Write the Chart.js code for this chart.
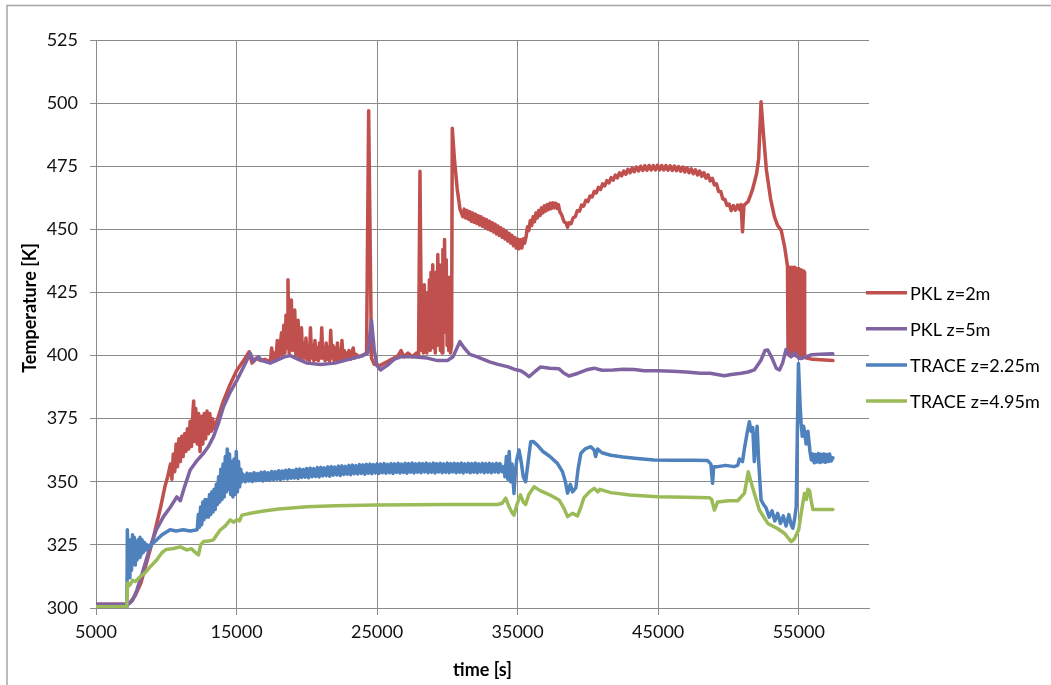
<!DOCTYPE html>
<html>
<head>
<meta charset="utf-8">
<script src="https://cdn.jsdelivr.net/npm/chart.js@4.4.0/dist/chart.umd.min.js"></script>
<style>html,body{margin:0;padding:0;background:#fff;}canvas{display:block;}</style>
</head>
<body>
<canvas id="c" width="1051" height="685"></canvas>
<script>
const seriesNames = ["PKL z=2m", "PKL z=5m", "TRACE z=2.25m", "TRACE z=4.95m"];
const seriesColors = ["#C0504D", "#8064A2", "#4F81BD", "#9BBB59"];
const xTicks = [5000, 15000, 25000, 35000, 45000, 55000];
const yTicks = [300, 325, 350, 375, 400, 425, 450, 475, 500, 525];
const xTitle = "time [s]";
const yTitle = "Temperature [K]";

const pkl2m = [[5000,301.5],[7200,301.5],[7400,302],[7800,305],[8200,310],[8600,318],[9000,326],[9300,333],[9600,340],[9900,348],[10100,352],
[10300,357],[10400,351],[10500,361],[10600,354],[10700,365],[10800,356],[10900,367],[11000,358],[11100,368],[11200,360],[11300,369],[11400,362],[11500,371],[11600,363],[11700,374],[11800,364],[11900,378],[11950,382],[12000,366],[12100,379],[12200,365],[12300,377],[12400,362],[12500,376],[12600,365],[12700,377],[12800,367],[12900,378],[13000,369],[13100,377],[13200,370],[13300,375],[13400,371],[13600,374],
[14000,381],[14500,388],[15000,394],[15500,398],[15900,401.5],[16100,397],[16400,399],[16700,398],[17000,398.5],[17400,397.5],[17500,403],[17600,398],[17700,401],[17800,398],[17900,406],[18000,399],[18100,404],[18200,409],[18280,400],[18360,412],[18440,401],[18520,416],[18600,403],[18660,430],[18740,401],[18820,413],[18900,422],[18980,402],[19060,411],[19140,418],[19220,400],[19300,409],[19380,414],[19460,399],[19540,408],[19620,411],[19700,399],[19780,405],[19860,399],[19940,407],[20020,398.5],[20100,404],[20180,398],[20260,411],[20340,399],[20420,404],[20500,398],[20580,406],[20660,398.5],[20740,403],[20820,398],[20900,405],[20980,399],[21060,411],[21140,399],[21220,403],[21300,398],[21380,405],[21460,398.5],[21540,403],[21620,398],[21700,410],[21780,399],[21860,404],[21940,398],[22020,403],[22100,398.5],[22180,405],[22260,398],[22340,402],[22420,398.5],[22500,406],[22580,398],[22660,402],[22740,398.5],[22820,401],[22900,398.5],[23000,402],[23100,398.5],[23200,401],[23300,403],[23400,399],[23500,400.5],[23700,399.5],[23900,400],[24100,400.5],[24250,401],[24400,497],[24600,399],[24800,396.5],[25200,396],[25700,397.5],[26200,399],[26500,400],[26700,402],[26900,399.5],[27200,401],[27500,399.5],[27800,401],[27950,400],
[28050,473],[28120,430],[28180,402],[28240,418],[28300,401],[28360,428],[28420,403],[28480,420],[28540,401],[28600,425],[28660,404],[28720,430],[28780,402],[28840,433],[28900,408],[28960,436],[29020,403],[29080,428],[29140,401],[29200,433],[29260,404],[29320,440],[29380,407],[29440,436],[29500,402],[29560,432],[29620,401],[29680,442],[29740,409],[29800,446],[29860,412],[29920,438],[29980,404],[30040,430],[30100,402],[30160,431],[30220,401],[30300,404],[30350,490],[30500,478],[30700,466],[30900,458],
[31100,455],[31200,458],[31300,454.5],[31400,457.5],[31500,454],[31600,457],[31700,453.2],[31800,456.5],[31900,452.8],[32000,456],[32100,452.3],[32200,455.4],[32300,451.7],[32400,455],[32500,451.2],[32600,454.3],[32700,450.6],[32800,453.8],[32900,450],[33000,453.2],[33100,449.5],[33200,452.6],[33300,448.9],[33400,452],[33500,448.2],[33600,451.3],[33700,447.6],[33800,450.6],[33900,446.9],[34000,449.9],[34100,446.2],[34200,449.2],[34300,445.4],[34400,448.4],[34500,444.6],[34600,447.6],[34700,443.5],[34800,446.8],[34900,442.6],[35000,446.2],[35100,442.3],[35200,445.9],[35300,442.6],[35400,446.3],[35500,444.5],
[35600,447],[35700,451],[35800,449.5],[35900,453.5],[36000,451.5],[36100,455],[36200,453],[36300,456.5],[36400,454.5],[36500,457.5],[36600,455.5],[36700,458.5],[36800,456.5],[36900,459.3],[37000,457.2],[37100,459.8],[37200,457.8],[37300,460.3],[37400,458.2],[37500,460.5],[37600,458.5],[37700,460.4],[37800,458.3],[37900,459.8],[38000,457],[38150,455.5],[38300,453],[38450,452.5],[38550,450.8],[38650,452.6],[38800,452.2],[38950,454.6],[39100,455],[39250,457.4],[39400,457.2],[39550,459.6],[39700,459.2],[39850,461.5],[40000,461],[40150,463.2],[40300,462.8],[40450,465],[40600,464.4],[40750,466.6],[40900,465.8],[41050,468],[41200,467.2],[41350,469.3],[41500,468.4],[41650,470.5],[41800,469.5],[41950,471.5],[42100,470.4],[42250,472.4],[42400,471.2],[42550,473.1],[42700,471.8],[42850,473.8],[43000,472.4],[43150,474.3],[43300,472.8],[43450,474.7],[43600,473.1],[43750,475],[43900,473.3],[44050,475.2],[44200,473.4],[44350,475.3],[44500,473.5],[44650,475.3],[44800,473.5],[44950,475.4],[45100,473.5],[45250,475.3],[45400,473.5],[45550,475.3],[45700,473.4],[45850,475.2],[46000,473.3],[46150,475.1],[46300,473.2],[46450,474.9],[46600,473],[46750,474.7],[46900,472.7],[47050,474.4],[47200,472.4],[47350,474],[47500,472],[47650,473.6],[47800,471.5],[47950,473.1],[48100,471],[48250,472.5],[48400,470.3],[48550,471.6],[48700,469.2],[48850,470.2],[49000,467.6],[49150,468],[49300,465],[49450,465],[49600,462],[49750,461.8],[49900,459.5],[50050,460],[50200,457.4],[50350,459.4],[50500,457.6],[50650,459.6],[50800,457.8],[50900,459.8],[51000,449],[51100,459.5],
[51400,461],[51700,465.5],[52000,472],[52150,478],[52320,500.5],[52500,487],[52700,473.5],[53000,462],[53270,455],[53500,451.5],[53750,449.7],[54000,443],[54200,435.5],
[54240,400.5],[54280,435],[54320,400],[54360,435],[54400,400.5],[54440,434.5],[54480,400],[54520,435],[54560,400],[54600,434.5],[54640,400.5],[54680,435],[54720,400],[54760,434.5],[54800,400],[54840,434.5],[54880,400.5],[54920,434],[54960,400],[55000,434.5],[55040,400],[55080,434],[55120,400.5],[55160,434],[55200,400],[55240,433.5],[55280,400],[55320,433.5],[55360,400],[55400,433],[55420,399.5],
[55550,399],[56000,398.5],[57430,398]];

const pkl5m = [[5000,301.5],[7300,301.5],[7600,303],[7900,307],[8300,314],[8850,324.3],[9300,331],[9800,336.2],[10300,340],[10750,344],[11000,342.5],[11300,348],[11700,354.7],[12200,358.5],[12650,361.3],[13000,364],[13360,367.9],[13700,373],[14070,379.7],[14500,385],[15030,390.3],[15500,395.5],[15980,400.9],[16210,397.7],[16570,399.5],[16800,398],[17400,397],[18000,398.5],[18400,399.5],[18830,400],[19400,398.5],[20020,397],[21000,396.5],[22000,397],[23000,398.5],[24000,400],[24350,401],[24600,414],[24800,402],[25000,396],[25240,394.3],[25700,396],[26200,398.5],[26670,399.5],[27500,399.5],[28570,399],[29300,398],[30000,398],[30400,399.5],[30890,405.5],[31200,403],[31600,400.5],[32130,399.5],[33000,397.5],[33600,396.5],[34270,395.6],[34800,394.5],[35220,394],[35500,393],[35810,391.6],[36200,393.5],[36640,395.5],[37300,395],[37930,394.8],[38300,393],[38660,391.9],[39300,393],[40000,394.5],[40440,395],[41000,394.2],[41800,394.3],[42500,394.6],[43290,394.5],[44000,394],[45000,394],[46000,393.8],[47000,393.5],[48000,393],[48700,393],[49700,392],[50200,392.5],[50900,393],[51400,393.5],[51840,394.3],[52300,398],[52600,402],[52800,402.2],[53100,399],[53400,395],[53630,394.3],[53850,397],[54100,402.4],[54300,400.5],[54460,399.5],[54700,401],[55000,399],[55170,398.8],[55500,399.5],[55890,400.3],[56500,400.5],[57430,400.7]];

const trace225 = [[5000,300.5],[7200,300.5],[7230,331],[7290,316],[7350,324],[7410,312],[7470,327],[7530,315],[7600,329],[7660,318],[7720,328],[7790,317],[7850,326],[7920,319],[7990,327],[8060,320],[8130,328],[8200,321],[8280,327],[8360,322],[8450,326],[8550,323],[8650,325],[8750,323.5],[9000,325.5],[9320,327],[9700,329],[10270,331],[10700,330.5],[11200,331],[11700,330.5],
[12200,331],[12280,337],[12360,332],[12440,340],[12520,333],[12600,342],[12680,335],[12760,343],[12840,336],[12920,343],[13000,336],[13080,345],[13160,337],[13240,346],[13320,338],[13400,347],[13480,339],[13560,349],[13640,341],[13720,352],[13800,342],[13880,355],[13960,343],[14040,357],[14120,344],[14200,360],[14280,346],[14340,363],[14420,347],[14500,361],[14580,345],[14660,358],[14740,344],[14820,359],[14900,345],[14980,362],[15060,346],[15140,358],[15220,348],[15300,355],[15380,350],[15460,353],
[15625,350.0],[15750,353.4],[15875,350.3],[16000,353.2],[16125,350.1],[16250,353.6],[16375,350.4],[16500,353.3],[16625,350.5],[16750,353.8],[16875,350.3],[17000,353.9],[17125,350.7],[17250,353.6],[17375,350.6],[17500,354.1],[17625,350.9],[17750,354.0],[17875,351.0],[18000,354.4],[18125,350.8],[18250,354.3],[18375,351.2],[18500,354.6],[18625,351.1],[18750,354.8],[18875,351.4],[19000,354.5],[19125,351.5],[19250,355.0],[19375,351.3],[19500,355.1],[19625,351.7],[19750,354.9],[19875,351.8],[20000,355.3],[20125,351.6],[20250,355.4],[20375,352.0],[20500,355.2],[20625,352.1],[20750,355.6],[20875,351.9],[21000,355.7],[21125,352.3],[21250,355.5],[21375,352.4],[21500,355.9],[21625,352.2],[21750,356.0],[21875,352.6],[22000,355.8],[22125,352.7],[22250,356.2],[22375,352.5],[22500,356.3],[22625,352.9],[22750,356.1],[22875,353.0],[23000,356.5],[23125,352.8],[23250,356.6],[23375,353.2],[23500,356.4],[23625,353.1],[23750,356.8],[23875,353.3],[24000,356.7],[24125,353.0],[24250,356.9],[24375,353.4],[24500,357.0],[24625,353.2],[24750,356.8],[24875,353.5],[25000,357.1],[25125,353.3],[25250,357.0],[25375,353.6],[25500,357.2],[25625,353.4],[25750,356.9],[25875,353.6],[26000,357.2],[26125,353.3],[26250,357.1],[26375,353.7],[26500,357.3],[26625,353.5],[26750,357.0],[26875,353.7],[27000,357.3],[27125,353.4],[27250,357.2],[27375,353.8],[27500,357.4],[27625,353.5],[27750,357.1],[27875,353.8],[28000,357.3],[28125,353.6],[28250,357.2],[28375,353.9],[28500,357.4],[28625,353.6],[28750,357.1],[28875,353.8],[29000,357.4],[29125,353.5],[29250,357.2],[29375,353.9],[29500,357.3],[29625,353.6],[29750,357.1],[29875,353.8],[30000,357.4],[30125,353.6],[30250,357.2],[30375,353.9],[30500,357.3],[30625,353.6],[30750,357.2],[30875,353.8],[31000,357.4],[31125,353.5],[31250,357.1],[31375,353.9],[31500,357.3],[31625,353.6],[31750,357.2],[31875,353.8],[32000,357.4],[32125,353.6],[32250,357.1],[32375,353.9],[32500,357.3],[32625,353.6],[32750,357.2],[32875,353.8],[33000,357.3],[33125,353.6],[33250,357.1],[33375,353.9],[33500,357.3],[33625,353.7],[33750,357.2],[33875,354.0],
[34000,356],[34100,352],[34200,360],[34300,351],[34400,362],[34500,350],[34600,357],[34740,345.4],[34850,355],[34950,359],[35100,362.6],[35250,358],[35400,352],[35570,350],[35750,358],[35930,365.9],[36100,366],[36400,364.5],[36800,362],[37300,360],[37830,357.3],[38190,354],[38400,350],[38550,345.5],[38750,349],[38900,346],[39140,347.6],[39300,355],[39500,361.3],[39800,363],[40210,363.9],[40450,362.5],[40550,360],[40690,363],[41000,361.5],[41630,360.5],[42500,359.8],[43500,359.2],[44720,358.6],[46000,358.5],[47500,358.5],[48520,358.4],[48750,357],[48870,349.4],[48950,356],[49230,356],[49800,356.5],[50400,356],[50660,356.5],[50780,359],[51000,358],[51140,363.3],[51350,370],[51490,373.8],[51600,370],[51730,371.5],[51840,358],[51950,366],[52040,372],[52150,358],[52320,342.8],[52500,341],[52680,339.6],[52900,336],[53100,338.5],[53300,334.5],[53500,337.5],[53700,333.5],[53900,336.5],[54100,332.5],[54300,337],[54460,333],[54580,331.6],[54700,335],[54820,340],[54980,396.9],[55100,380],[55170,373.2],[55250,368],[55350,372],[55530,365],[55650,370],[55800,362],
[55900,358.6],[56000,361],[56100,357.5],[56200,360.8],[56300,357.8],[56400,361.2],[56500,357.6],[56600,360.9],[56700,357.9],[56800,361],[56900,357.7],[57000,360.8],[57100,358],[57200,361],[57300,358.2],[57430,359.5]];

const trace495 = [[5000,300.5],[7190,300.5],[7250,309.9],[7400,309],[7600,311],[7800,310.5],[8140,312.4],[8500,314],[8800,316],[9320,319],[9700,322],[10000,323.2],[10510,323.6],[11000,324.2],[11460,323],[11800,323.5],[12060,322],[12290,321],[12450,325],[12650,326.3],[13000,326.5],[13360,327],[13600,329],[13840,330.9],[14200,332.5],[14550,334.9],[14800,334],[15030,335],[15200,334.5],[15390,336.8],[15800,337.3],[16920,338.4],[18000,339.2],[20020,340.1],[22000,340.5],[25000,340.8],[30000,341],[33560,341],[33900,341.5],[34150,343.5],[34400,340],[34630,337.5],[34740,336.8],[34950,341],[35200,344.8],[35400,342],[35570,341],[35800,345],[36170,348],[36600,346.5],[37400,344.5],[37950,342.8],[38300,339.5],[38550,336.2],[38900,337.5],[39260,336.5],[39500,340],[39710,343.6],[40100,346],[40450,347.4],[40700,346],[40850,347],[41630,345.7],[43000,344.8],[44960,344.1],[47000,343.9],[48640,343.7],[48800,343],[49000,338.8],[49230,342],[50000,342.5],[50660,342.5],[51140,345.5],[51410,354],[51600,350],[51840,345.5],[52200,338.8],[52800,333.5],[53510,331.4],[54000,329.5],[54460,326.3],[54700,327.5],[55000,331],[55170,337.5],[55410,345.4],[55550,343],[55650,347],[55770,346.5],[55900,342],[56010,339],[57430,339]];

const seriesData = [pkl2m, pkl5m, trace225, trace495];
const drawOrder = [4, 3, 2, 1];

const FONT = "Lato, 'Open Sans', sans-serif";

const decor = {
  id: 'decor',
  beforeDraw(chart) {
    const c = chart.ctx;
    c.save();
    c.fillStyle = '#ffffff';
    c.fillRect(0, 0, chart.width, chart.height);
    c.strokeStyle = '#a6a6a6';
    c.lineWidth = 1.5;
    c.beginPath();
    c.moveTo(7, chart.height);
    c.lineTo(7, 5.5);
    c.lineTo(chart.width, 5.5);
    c.stroke();
    c.restore();
  },
  afterDraw(chart) {
    const c = chart.ctx;
    const area = chart.chartArea;
    c.save();
    c.font = "18px " + FONT;
    c.textBaseline = 'middle';
    c.textAlign = 'left';
    chart.data.datasets.forEach((ds, i) => {
      const y = 292.7 + i * 36.1;
      c.strokeStyle = ds.borderColor;
      c.lineWidth = 3.5;
      c.beginPath();
      c.moveTo(866, y);
      c.lineTo(907, y);
      c.stroke();
      c.fillStyle = '#000';
      c.fillText(ds.label, 910, y + 1);
    });
    c.font = "bold 18px " + FONT;
    c.fillStyle = '#000';
    c.textAlign = 'center';
    c.fillText(xTitle, (area.left + area.right) / 2, 670);
    c.translate(30.5, 308);
    c.rotate(-Math.PI / 2);
    c.fillText(yTitle, 0, 0);
    c.restore();
  }
};

const datasets = seriesData.map((pairs, i) => ({
  label: seriesNames[i],
  data: pairs.map(p => ({x: p[0], y: p[1]})),
  borderColor: seriesColors[i],
  backgroundColor: seriesColors[i],
  borderWidth: 3.5,
  pointRadius: 0,
  pointHoverRadius: 0,
  tension: 0,
  fill: false,
  borderJoinStyle: 'round',
  borderCapStyle: 'round',
  order: drawOrder[i]
}));

const gridColor = '#8a8a8a';

new Chart(document.getElementById('c'), {
  type: 'line',
  data: { datasets },
  plugins: [decor],
  options: {
    responsive: false,
    animation: false,
    parsing: false,
    normalized: true,
    events: [],
    layout: { padding: { left: 0, top: 40, right: 182, bottom: 0 } },
    plugins: { legend: { display: false }, tooltip: { enabled: false }, title: { display: false } },
    scales: {
      x: {
        type: 'linear',
        min: 5000,
        max: 60000,
        afterBuildTicks: s => { s.ticks = xTicks.map(v => ({value: v})); },
        afterFit: s => { s.height = 77; },
        ticks: { font: { family: FONT, size: 18 }, color: '#111', padding: 6, maxRotation: 0, autoSkip: false, callback: v => String(v) },
        grid: { color: gridColor, lineWidth: 1, tickLength: 7, drawTicks: true },
        border: { color: gridColor, width: 1 }
      },
      y: {
        type: 'linear',
        min: 300,
        max: 525,
        afterBuildTicks: s => { s.ticks = yTicks.map(v => ({value: v})); },
        afterFit: s => { s.width = 96; },
        ticks: { font: { family: FONT, size: 18 }, color: '#111', padding: 12, callback: v => String(v) },
        grid: { color: gridColor, lineWidth: 1, tickLength: 6, drawTicks: true },
        border: { color: gridColor, width: 1 }
      }
    }
  }
});
</script>
</body>
</html>
